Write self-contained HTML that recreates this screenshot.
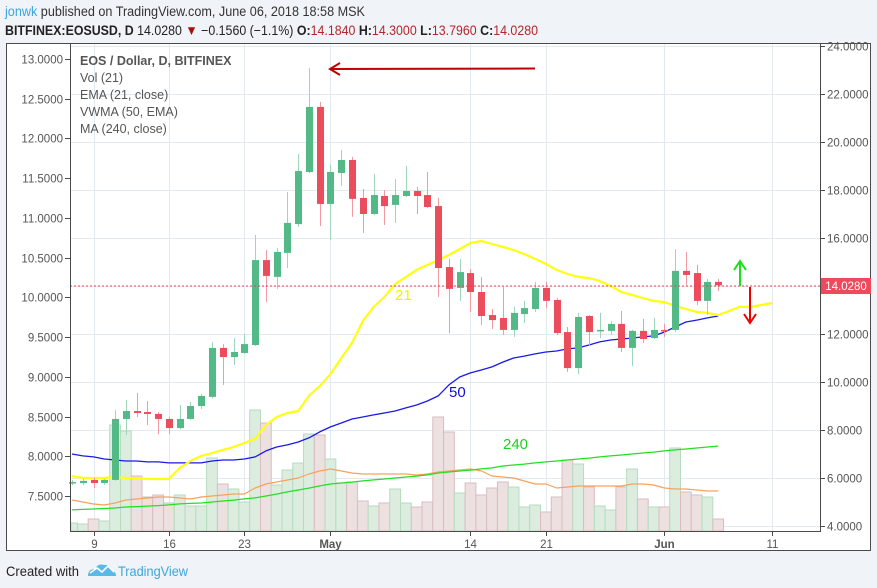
<!DOCTYPE html>
<html><head><meta charset="utf-8">
<style>
html,body{margin:0;padding:0;background:#f0f3f7;width:877px;height:588px;overflow:hidden;font-family:"Liberation Sans",sans-serif;}
svg{display:block}
</style></head>
<body>
<svg id="chart" width="877" height="588" xmlns="http://www.w3.org/2000/svg">
  <text x="5" y="16" font-size="13.5" fill="#333" textLength="360" lengthAdjust="spacingAndGlyphs"><tspan fill="#3aa6dc">jonwk</tspan> published on TradingView.com, June 06, 2018 18:58 MSK</text>
  <text x="5" y="35" font-size="13.5" fill="#222" textLength="533" lengthAdjust="spacingAndGlyphs"><tspan font-weight="bold">BITFINEX:EOSUSD, D</tspan> 14.0280 <tspan fill="#a81010">▼</tspan> −0.1560 (−1.1%) <tspan font-weight="bold">O:</tspan><tspan fill="#b3272a">14.1840</tspan> <tspan font-weight="bold">H:</tspan><tspan fill="#b3272a">14.3000</tspan> <tspan font-weight="bold">L:</tspan><tspan fill="#b3272a">13.7960</tspan> <tspan font-weight="bold">C:</tspan><tspan fill="#b3272a">14.0280</tspan></text>
  <rect x="6.5" y="43.5" width="864" height="507" fill="#fff" stroke="#4a4a4a"/>
  <g id="grid"></g>
  <g id="vol"></g>
  <g id="lines"></g>
  <g id="candles"></g>
  <line x1="70" y1="286" x2="820" y2="286" stroke="#e8424f" stroke-dasharray="2,2"/>
  <line x1="70.5" y1="44" x2="70.5" y2="531" stroke="#4a4a4a"/>
  <line x1="820.5" y1="44" x2="820.5" y2="531" stroke="#4a4a4a"/>
  <line x1="70" y1="531.5" x2="821" y2="531.5" stroke="#4a4a4a"/>
  <g id="axes" font-size="11.5" fill="#555"></g>
  <rect x="821" y="278" width="50" height="16" fill="#ed4b5c"/>
  <text x="846" y="290" font-size="11.5" fill="#fff" text-anchor="middle">14.0280</text>
  <g font-size="12.5" fill="#555">
    <text x="80" y="65" font-weight="bold">EOS / Dollar, D, BITFINEX</text>
    <text x="80" y="82">Vol (21)</text>
    <text x="80" y="99">EMA (21, close)</text>
    <text x="80" y="116">VWMA (50, EMA)</text>
    <text x="80" y="133">MA (240, close)</text>
  </g>
  <text x="395" y="300" font-size="15" fill="#f5f000">21</text>
  <text x="449" y="397" font-size="15" fill="#1010d0">50</text>
  <text x="503" y="449" font-size="15" fill="#20d020">240</text>
  <g stroke="#c00000" stroke-width="2" fill="none">
    <line x1="535" y1="68.5" x2="331" y2="69"/>
    <polyline points="340,63 330,69 340,75"/>
  </g>
  <g stroke="#19e019" stroke-width="2" fill="none">
    <line x1="740" y1="286" x2="740" y2="261"/>
    <polyline points="734,270 740,261 746,270"/>
  </g>
  <g stroke="#f00000" stroke-width="2" fill="none">
    <line x1="750" y1="287" x2="750" y2="323"/>
    <polyline points="744,314 750,323 756,314"/>
  </g>
  <text x="6" y="576" font-size="14" fill="#222" textLength="73" lengthAdjust="spacingAndGlyphs">Created with</text>
  <g>
    <path d="M88 576 q0-7 7-7 q3-6 9-4 q6-1 7 5 q5 1 5 6 z" fill="#5ab9e6"/>
    <polyline points="90,573 97,568 102,572 108,566 114,572" stroke="#fff" stroke-width="1.6" fill="none"/>
    <text x="118" y="576" font-size="14" fill="#3aa6dc" textLength="70" lengthAdjust="spacingAndGlyphs">TradingView</text>
  </g>
</svg>
<script>
const opens=[5.79,5.79,5.92,5.79,5.92,8.46,8.79,8.75,8.67,8.46,8.08,8.46,9.00,9.38,11.42,11.04,11.21,11.54,15.08,14.38,15.38,16.58,18.75,21.46,17.42,18.71,19.25,17.67,17.00,17.75,17.38,17.75,17.96,17.79,17.33,14.79,13.92,14.54,13.75,12.79,12.67,12.17,12.83,13.04,13.92,13.42,12.08,10.58,12.75,12.13,12.13,12.42,11.42,12.13,11.83,12.17,12.17,14.63,14.54,13.38,14.17];
const highs=[5.92,5.96,6.00,5.96,8.83,9.25,9.54,9.21,8.75,8.54,9.04,9.17,9.50,11.67,11.58,11.83,12.00,16.13,15.50,15.58,17.92,19.50,23.08,21.67,19.04,19.67,19.38,18.04,18.67,18.00,18.46,19.00,18.13,18.75,17.67,15.13,15.13,14.71,14.38,13.04,13.96,13.13,13.38,14.17,14.17,13.50,12.29,12.88,12.79,12.88,12.54,12.96,12.17,12.63,12.67,12.42,15.54,15.42,14.88,14.29,14.29];
const lows=[5.71,5.71,5.58,5.71,5.88,7.79,8.54,8.21,7.83,7.83,8.04,8.42,8.88,9.33,9.88,10.71,11.17,11.50,13.33,13.88,14.75,16.46,18.71,16.50,15.92,18.17,16.88,16.21,16.96,16.54,16.63,17.71,17.00,17.25,13.54,12.04,13.38,12.92,12.38,12.21,11.96,11.88,12.46,12.92,13.08,11.96,10.42,10.33,11.50,11.83,11.96,11.25,10.67,11.63,11.79,11.88,12.08,14.04,13.21,12.79,13.79];
const closes=[5.83,5.88,5.79,5.92,8.46,8.79,8.71,8.67,8.46,8.08,8.46,9.00,9.42,11.42,11.04,11.25,11.58,15.08,14.42,15.42,16.63,18.79,21.46,17.42,18.75,19.25,17.63,17.00,17.79,17.33,17.79,17.96,17.75,17.29,14.75,13.88,14.58,13.75,12.75,12.58,12.17,12.88,13.08,13.92,13.38,12.04,10.58,12.71,12.08,12.17,12.42,11.42,12.13,11.79,12.17,12.13,14.63,14.46,13.38,14.17,14.028];
const volumes=[5,4,9,7,103,97,52,31,33,25,33,22,22,70,44,39,26,118,105,43,58,65,94,93,69,45,46,27,22,25,39,25,21,26,111,96,35,45,33,40,46,41,21,23,16,31,68,64,41,22,18,41,59,29,21,21,80,36,33,31,9];
const volMA=[28,26,24,23,25,28,29,30,31,31,30,29,31,32,33,34,34,40,44,46,48,50,54,57,59,57,55,54,54,54,54,54,53,54,56,57,58,59,57,52,51,50,47,44,44,40,41,42,42,42,42,42,44,44,43,40,39,39,38,37,37];
const ema21=[6.08,6.00,6.00,6.00,6.04,6.00,6.00,5.96,5.96,5.96,6.42,6.71,6.92,7.04,7.17,7.29,7.46,7.63,8.21,8.54,8.71,8.79,9.42,9.83,10.33,11.00,11.63,12.54,13.13,13.54,14.08,14.38,14.67,14.88,15.08,15.29,15.54,15.79,15.88,15.75,15.63,15.50,15.33,15.13,14.92,14.67,14.50,14.38,14.33,14.21,14.00,13.75,13.63,13.50,13.38,13.33,13.17,13.04,12.92,12.88,12.79,12.96,13.13,13.13,13.21,13.29];
const vwma50=[7.00,6.92,6.88,6.79,6.75,6.71,6.71,6.67,6.67,6.63,6.63,6.63,6.63,6.71,6.75,6.75,6.79,6.88,7.13,7.29,7.38,7.50,7.67,7.92,8.13,8.29,8.46,8.54,8.63,8.71,8.79,8.92,9.04,9.21,9.42,9.88,10.21,10.38,10.50,10.63,10.83,11.00,11.08,11.17,11.25,11.29,11.38,11.42,11.54,11.67,11.75,11.79,11.83,11.88,11.92,12.08,12.29,12.50,12.58,12.67,12.75];
const ma240=[4.67,4.69,4.71,4.73,4.75,4.79,4.81,4.83,4.85,4.88,4.92,4.94,4.96,5.00,5.04,5.08,5.13,5.17,5.25,5.33,5.42,5.50,5.58,5.67,5.75,5.79,5.83,5.88,5.92,5.96,6.00,6.04,6.08,6.13,6.21,6.25,6.29,6.33,6.38,6.42,6.50,6.54,6.58,6.63,6.67,6.71,6.75,6.79,6.83,6.88,6.92,6.96,7.00,7.04,7.08,7.13,7.17,7.21,7.25,7.29,7.33];
const rightTicks=["24.0000","22.0000","20.0000","18.0000","16.0000","14.0000","12.0000","10.0000","8.0000","6.0000","4.0000"];
const leftTicks=["13.0000","12.5000","12.0000","11.5000","11.0000","10.5000","10.0000","9.5000","9.0000","8.5000","8.0000","7.5000"];
const dateLabels=["9","16","23","May","14","21","Jun","11"];
const dateIndex=[2,9,16,24,37,44,55,65];

const NS="http://www.w3.org/2000/svg";
const X0=72, DX=10.77;
function xOf(i){return X0+i*DX;}
function yOf(p){return 46+(24-p)*24;}
function yLeft(v){return 59+(13-v)*79.45;}
function yVol(v){return 528-v;}
function mk(tag,attrs,parent){const e=document.createElementNS(NS,tag);for(const k in attrs)e.setAttribute(k,attrs[k]);parent.appendChild(e);return e;}

const grid=document.getElementById('grid'), axes=document.getElementById('axes');
rightTicks.forEach(t=>{
  const y=Math.round(yOf(parseFloat(t)))+0.5;
  const g=mk('line',{x1:70,x2:820,y1:y,y2:y,stroke:'#e2e9ef'},grid);
  
  
  const tk=mk('line',{x1:820,x2:825,y1:y,y2:y,stroke:'#4a4a4a'},axes);
  
  
  const tx=mk('text',{x:827,y:y+4},axes);tx.textContent=t;
  
  
});
leftTicks.forEach(t=>{
  const y=Math.round(yLeft(parseFloat(t)))+0.5;
  const tk=mk('line',{x1:65,x2:70,y1:y,y2:y,stroke:'#4a4a4a'},axes);
  
  
  const tx=mk('text',{x:63,y:y+4,'text-anchor':'end'},axes);tx.textContent=t;
  
  
});
dateLabels.forEach((d,k)=>{
  const x=Math.round(xOf(dateIndex[k]))+0.5;
  const g=mk('line',{x1:x,x2:x,y1:44,y2:531,stroke:'#e2e9ef'},grid);
  
  
  const tk=mk('line',{x1:x,x2:x,y1:531,y2:536,stroke:'#4a4a4a'},axes);
  
  
  const tx=mk('text',{x:x,y:548,'text-anchor':'middle'},axes);tx.textContent=d;
  if(d==='May'||d==='Jun')tx.setAttribute('font-weight','bold');
  
  
});

const vol=document.getElementById('vol');
volumes.forEach((v,i)=>{
  const up=closes[i]>=opens[i];
  const x0=Math.max(71,xOf(i)-DX/2), x1=xOf(i)+DX/2;
  const r=mk('rect',{x:x0,y:yVol(v),width:x1-x0,height:v+3,fill:up?'#dcede0':'#ede0e1',stroke:up?'#b5dcbf':'#d9bcc0','stroke-width':1},vol);
  
  
});

const lines=document.getElementById('lines');
function poly(arr,yf,color,w,name){
  const pts=arr.map((v,i)=>xOf(i).toFixed(1)+','+yf(v).toFixed(1)).join(' ');
  const p=mk('polyline',{points:pts,fill:'none',stroke:color,'stroke-width':w,'stroke-linejoin':'round'},lines);
  
  
}
poly(volMA,yVol,'#f7a25c',1.2,'volume-ma-line');
poly(ma240,yOf,'#22e022',1.3,'ma240-line');
poly(vwma50,yOf,'#1a1ae6',1.3,'vwma50-line');
poly(ema21,yOf,'#ffff10',2.2,'ema21-line');

const cg=document.getElementById('candles');
opens.forEach((o,i)=>{
  const c=closes[i], up=c>=o, col=up?'#53b987':'#eb4d5c', wick=up?'#9fd6bb':'#f29aa3';
  const x=Math.round(xOf(i));
  const w=mk('line',{x1:x+0.5,x2:x+0.5,y1:yOf(highs[i]),y2:yOf(lows[i]),stroke:wick},cg);
  
  
  const top=yOf(Math.max(o,c)), h=Math.max(1.5,Math.abs(yOf(o)-yOf(c)));
  const b=mk('rect',{x:x-3,y:top,width:7,height:h,fill:col},cg);
  
  
});
</script>
</body></html>
